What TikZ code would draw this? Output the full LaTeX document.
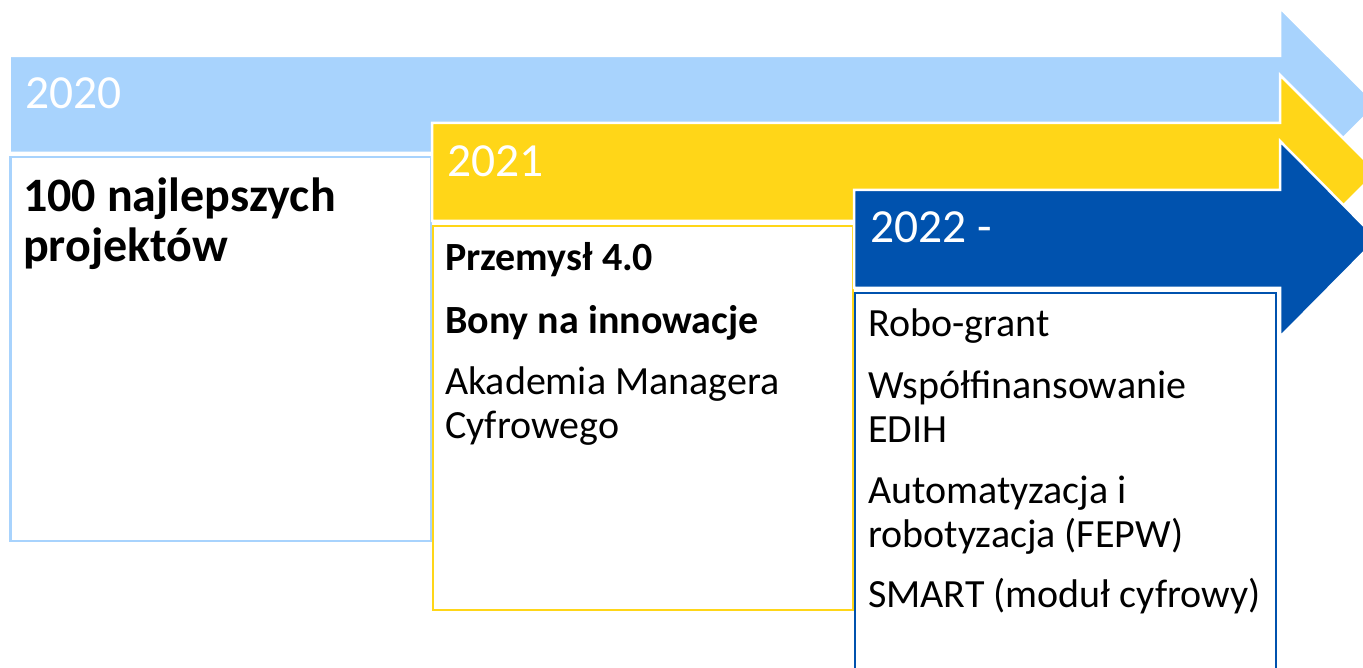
\documentclass[tikz,border=0pt]{standalone}
\usepackage{fontspec}
\setmainfont{Carlito}
\definecolor{skyband}{RGB}{168,211,253}
\definecolor{sunband}{RGB}{255,214,24}
\definecolor{navyband}{RGB}{0,82,174}
\begin{document}
\begin{tikzpicture}[x=1pt,y=-1pt,
  band/.style={draw=white,line width=2.5pt,line join=miter},
  panel/.style={fill=white,line width=2.5pt},
  year/.style={anchor=base west,inner sep=0pt,text=white,font=\fontsize{47.5}{56}\selectfont},
  item/.style={anchor=base west,inner sep=0pt,align=left,font=\fontsize{40}{44}\selectfont},
  bitem/.style={item,font=\fontsize{40}{44}\selectfont\bfseries}]
\useasboundingbox (0,0) rectangle (1363,668);
\clip (0,0) rectangle (1363,668);
% 2020 band and panel (multi-line nodes are placed by their last baseline)
\fill[skyband,band] (9.5,56) -- (1280,56) -- (1280,8) -- (1377,104.5) -- (1280,201) -- (1280,153) -- (9.5,153) -- cycle;
\draw[panel,draw=skyband] (10.5,157) rectangle (431,541);
\node[year] (y20) at (25,109) {2020};
\node[item,font=\fontsize{48}{50}\selectfont\bfseries] (p20) at (23,262) {100 najlepszych\\projektów};
% 2021 band and panel
\fill[sunband,band] (432,123) -- (1280,123) -- (1280,75) -- (1377,172) -- (1280,269) -- (1280,221) -- (432,221) -- cycle;
\draw[panel,draw=sunband] (433,226) rectangle (853,610);
\node[year] (y21) at (447,177) {2021};
\node[bitem] (p21a) at (445,271) {Przemysł 4.0};
\node[bitem] (p21b) at (445,334) {Bony na innowacje};
\node[item] (p21c) at (445,438) {Akademia Managera\\Cyfrowego};
% 2022 band and panel
\fill[navyband,band] (854,190) -- (1280,190) -- (1280,141) -- (1377,239) -- (1280,337) -- (1280,288) -- (854,288) -- cycle;
\draw[panel,draw=navyband] (855,293) rectangle (1276,690);
\node[year] (y22) at (870,243) {2022 -};
\node[item] (p22a) at (868,337) {Robo-grant};
\node[item] (p22b) at (868,442) {Współfinansowanie\\EDIH};
\node[item] (p22c) at (868,547) {Automatyzacja i\\robotyzacja (FEPW)};
\node[item] (p22d) at (868,607) {SMART (moduł cyfrowy)};
\end{tikzpicture}
\end{document}
